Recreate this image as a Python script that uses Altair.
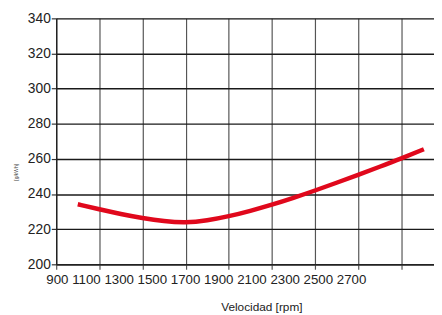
import altair as alt
import pandas as pd

# Data
rpm = [1000, 1100, 1200, 1300, 1400, 1500, 1600, 1700, 1800, 1900, 2000, 2100, 2200, 2300, 2400, 2500, 2605]
consumo = [234.2, 231.3, 228.6, 226.3, 224.5, 223.6, 224.9, 227.3, 230.4, 233.9, 237.8, 242.0, 246.4, 250.9, 255.5, 260.2, 265.5]
x_grid = [900, 1100, 1300, 1500, 1700, 1900, 2100, 2300, 2500]
x_labels = ["900", "1100", "1300", "1500", "1700", "1900", "2100", "2300", "2500", "2700"]
y_ticks = [200, 220, 240, 260, 280, 300, 320, 340]

df = pd.DataFrame({"rpm": rpm, "consumo": consumo})

FONT = "Liberation Sans"

line = alt.Chart(df).mark_line(
    color="#e0081c", strokeWidth=4.5, interpolate="basis", strokeCap="butt"
).encode(
    x=alt.X(
        "rpm:Q",
        scale=alt.Scale(domain=[900, 2652], nice=False, zero=False),
        axis=alt.Axis(
            values=x_grid,
            labels=False,
            ticks=True,
            tickSize=5,
            tickColor="#555555",
            tickWidth=1.2,
            grid=True,
            gridColor="#555555",
            gridWidth=1.2,
            gridOpacity=1,
            domainColor="#222222",
            domainWidth=1.4,
            title=" ".join(x_labels),
            titleFont=FONT,
            titleFontSize=13.5,
            titleFontWeight="normal",
            titleColor="#222222",
            titleAnchor="start",
            titleAlign="left",
            titleBaseline="alphabetic",
            titleX=-10.5,
            titleY=20,
        ),
    ),
    y=alt.Y(
        "consumo:Q",
        scale=alt.Scale(domain=[200, 340], nice=False, zero=False),
        axis=alt.Axis(
            values=y_ticks,
            labelFont=FONT,
            labelFontSize=14,
            labelColor="#222222",
            labelPadding=1,
            tickSize=5,
            tickColor="#333333",
            tickWidth=1.2,
            grid=True,
            gridColor="#1a1a1a",
            gridWidth=1.4,
            gridOpacity=1,
            domainColor="#222222",
            domainWidth=1.4,
            title="[g/kWh]",
            titleFont=FONT,
            titleFontSize=5,
            titleFontWeight="normal",
            titleColor="#444444",
            titleAngle=270,
            titleX=-41,
            titleY=156,
            titleAlign="center",
            titleBaseline="middle",
        ),
    ),
)

chart = line.properties(
    width=384,
    height=250,
    title=alt.TitleParams(
        "Velocidad [rpm]",
        orient="bottom",
        anchor="middle",
        font=FONT,
        fontSize=12,
        fontWeight="normal",
        color="#222222",
        dx=17,
        offset=16,
    ),
    autosize=alt.AutoSizeParams(type="none"),
    padding={"left": 49, "top": 8, "right": 0, "bottom": 50},
).configure_view(stroke=None).configure(background="white")

chart.save("out.html", embed_options={"renderer": "svg", "actions": False})
